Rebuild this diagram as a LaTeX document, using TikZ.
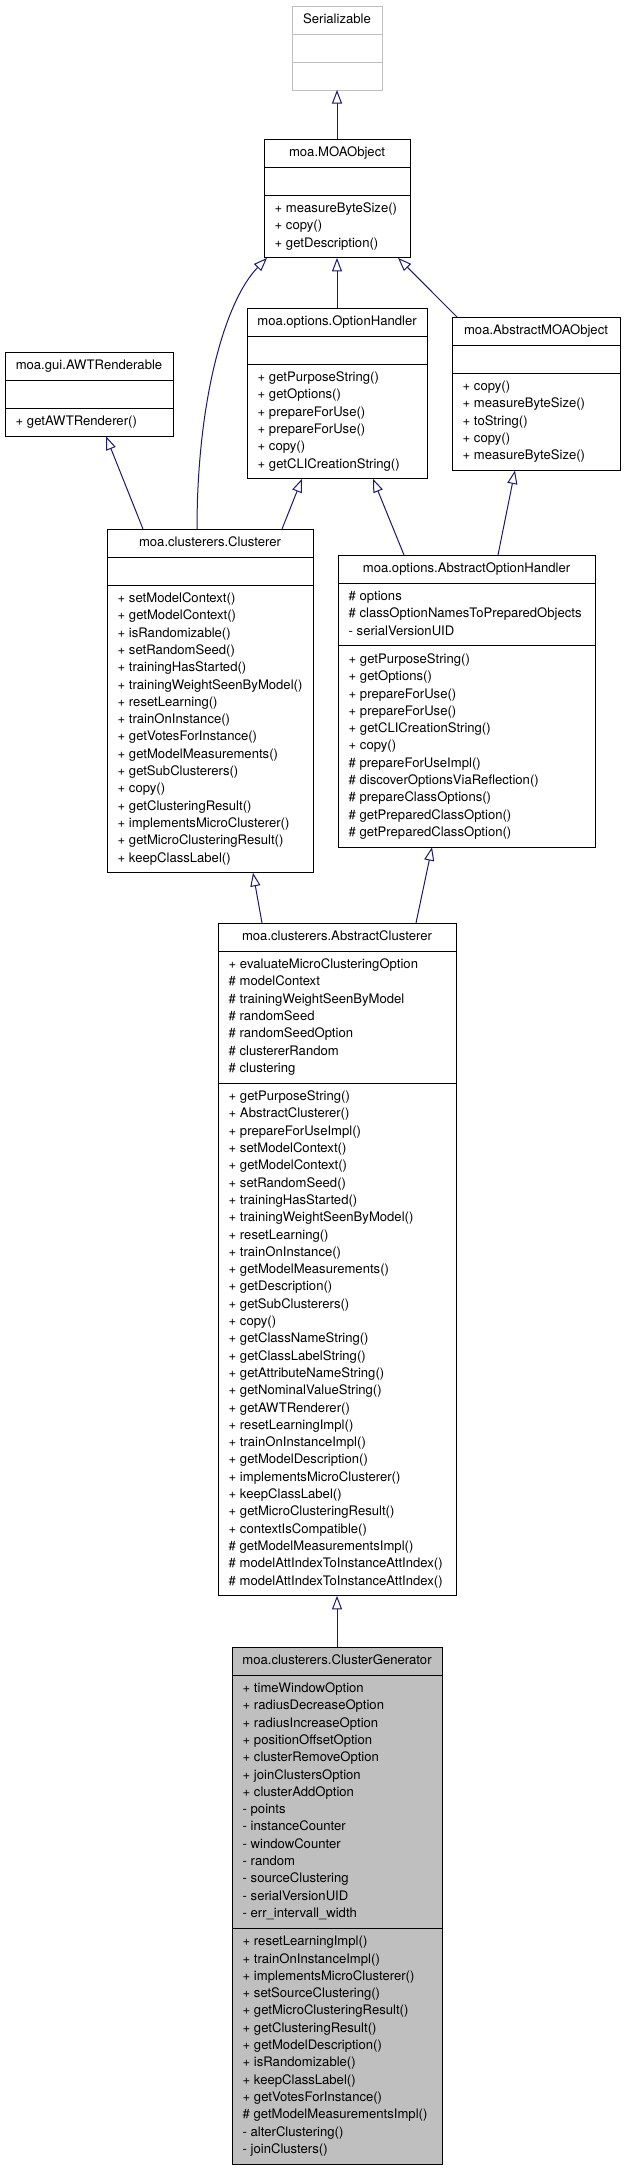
\documentclass[tikz,border=0pt]{standalone}
\usepackage{fontspec}
\setmainfont{TeX Gyre Heros}
\usetikzlibrary{arrows.meta}
\definecolor{edgeblue}{HTML}{191970}
\definecolor{greyss}{HTML}{BFBFBF}
\newcommand\fsz{\fontsize{13.1}{15}\selectfont}
\newcommand\memlist[4]{\foreach \t [count=\i] in {#4} {\node[mem] (#1-#2-\i) at ([xshift=10.5pt,yshift={-(#3+17.5+(\i-1)*17.3)*1pt}]#1.north west) {\t};}}
\newcommand\sepl[3][black]{\draw[line width=1pt, draw=#1] ([yshift=-#3pt]#2.north west) -- ([yshift=-#3pt]#2.north east);}
\begin{document}
\begin{tikzpicture}[x=1pt,y=-1pt,
  box/.style={draw=black, line width=1pt, fill=white, inner sep=0pt, outer sep=0pt, anchor=north west},
  ttl/.style={anchor=base, inner sep=0pt, font=\fsz},
  mem/.style={anchor=base west, inner sep=0pt, font=\fsz},
  inh/.style={draw=edgeblue, line width=1pt, -{Triangle[open, length=13.5pt, width=10pt, fill=white]}}]
\useasboundingbox (0,0) rectangle (624,2171);
\fill[white] (0,0) rectangle (624,2171);

% Serializable
\node[box, draw=greyss, minimum width=90pt, minimum height=84pt] (ser) at (292,6) {};
\sepl[greyss]{ser}{28}\sepl[greyss]{ser}{56}
\node[ttl] (ser-t) at ([yshift=-17.5pt]ser.north) {Serializable};

% MOAObject
\node[box, minimum width=146pt, minimum height=118.9pt] (moa) at (264,139) {};
\sepl{moa}{28}\sepl{moa}{56}
\node[ttl] (moa-t) at ([yshift=-17.5pt]moa.north) {moa.MOAObject};
\memlist{moa}{m}{56}{+ measureByteSize(), + copy(), + getDescription()}

% OptionHandler
\node[box, minimum width=180pt, minimum height=170.8pt] (oh) at (247,308) {};
\sepl{oh}{28}\sepl{oh}{56}
\node[ttl] (oh-t) at ([yshift=-17.5pt]oh.north) {moa.options.OptionHandler};
\memlist{oh}{m}{56}{+ getPurposeString(), + getOptions(), + prepareForUse(), + prepareForUse(), + copy(), + getCLICreationString()}

% AbstractMOAObject
\node[box, minimum width=168pt, minimum height=153.5pt] (amo) at (452,317) {};
\sepl{amo}{28}\sepl{amo}{56}
\node[ttl] (amo-t) at ([yshift=-17.5pt]amo.north) {moa.AbstractMOAObject};
\memlist{amo}{m}{56}{+ copy(), + measureByteSize(), + toString(), + copy(), + measureByteSize()}

% AWTRenderable
\node[box, minimum width=168pt, minimum height=84.3pt] (awt) at (5,352) {};
\sepl{awt}{28}\sepl{awt}{56}
\node[ttl] (awt-t) at ([yshift=-17.5pt]awt.north) {moa.gui.AWTRenderable};
\memlist{awt}{m}{56}{+ getAWTRenderer()}

% Clusterer
\node[box, minimum width=206pt, minimum height=343.8pt] (cl) at (107,529) {};
\sepl{cl}{28}\sepl{cl}{56}
\node[ttl] (cl-t) at ([yshift=-17.5pt]cl.north) {moa.clusterers.Clusterer};
\memlist{cl}{m}{56}{+ setModelContext(), + getModelContext(), + isRandomizable(), + setRandomSeed(), + trainingHasStarted(), + trainingWeightSeenByModel(), + resetLearning(), + trainOnInstance(), + getVotesForInstance(), + getModelMeasurements(), + getSubClusterers(), + copy(), + getClusteringResult(), + implementsMicroClusterer(), + getMicroClusteringResult(), + keepClassLabel()}

% AbstractOptionHandler
\node[box, minimum width=257pt, minimum height=292.2pt] (aoh) at (338,555) {};
\sepl{aoh}{28}\sepl{aoh}{90.9}
\node[ttl] (aoh-t) at ([yshift=-17.5pt]aoh.north) {moa.options.AbstractOptionHandler};
\memlist{aoh}{a}{28}{\# options, \# classOptionNamesToPreparedObjects, - serialVersionUID}
\memlist{aoh}{m}{90.9}{+ getPurposeString(), + getOptions(), + prepareForUse(), + prepareForUse(), + getCLICreationString(), + copy(), \# prepareForUseImpl(), \# discoverOptionsViaReflection(), \# prepareClassOptions(), \# getPreparedClassOption(), \# getPreparedClassOption()}

% AbstractClusterer
\node[box, minimum width=238pt, minimum height=672.8pt] (ac) at (218,923) {};
\sepl{ac}{28}\sepl{ac}{160.1}
\node[ttl] (ac-t) at ([yshift=-17.5pt]ac.north) {moa.clusterers.AbstractClusterer};
\memlist{ac}{a}{28}{+ evaluateMicroClusteringOption, \# modelContext, \# trainingWeightSeenByModel, \# randomSeed, \# randomSeedOption, \# clustererRandom, \# clustering}
\memlist{ac}{m}{160.1}{+ getPurposeString(), + AbstractClusterer(), + prepareForUseImpl(), + setModelContext(), + getModelContext(), + setRandomSeed(), + trainingHasStarted(), + trainingWeightSeenByModel(), + resetLearning(), + trainOnInstance(), + getModelMeasurements(), + getDescription(), + getSubClusterers(), + copy(), + getClassNameString(), + getClassLabelString(), + getAttributeNameString(), + getNominalValueString(), + getAWTRenderer(), + resetLearningImpl(), + trainOnInstanceImpl(), + getModelDescription(), + implementsMicroClusterer(), + keepClassLabel(), + getMicroClusteringResult(), + contextIsCompatible(), \# getModelMeasurementsImpl(), \# modelAttIndexToInstanceAttIndex(), \# modelAttIndexToInstanceAttIndex()}

% ClusterGenerator
\node[box, fill=greyss, minimum width=210pt, minimum height=517.1pt] (cg) at (232,1647) {};
\sepl{cg}{28}\sepl{cg}{281.2}
\node[ttl] (cg-t) at ([yshift=-17.5pt]cg.north) {moa.clusterers.ClusterGenerator};
\memlist{cg}{a}{28}{+ timeWindowOption, + radiusDecreaseOption, + radiusIncreaseOption, + positionOffsetOption, + clusterRemoveOption, + joinClustersOption, + clusterAddOption, - points, - instanceCounter, - windowCounter, - random, - sourceClustering, - serialVersionUID, - err\_intervall\_width}
\memlist{cg}{m}{281.2}{+ resetLearningImpl(), + trainOnInstanceImpl(), + implementsMicroClusterer(), + setSourceClustering(), + getMicroClusteringResult(), + getClusteringResult(), + getModelDescription(), + isRandomizable(), + keepClassLabel(), + getVotesForInstance(), \# getModelMeasurementsImpl(), - alterClustering(), - joinClusters()}

% inheritance edges
\draw[inh] (moa.north) -- (ser.south);
\draw[inh] (oh.north) -- (moa.south);
\draw[inh] ([xshift=5pt]amo.north west) -- ([xshift=-12pt]moa.south east);
\draw[inh] ([xshift=90pt]cl.north west) .. controls +(0,-129) and +(-42,43) .. ([xshift=3pt]moa.south west);
\draw[inh] ([xshift=36pt]cl.north west) -- ([xshift=101pt]awt.south west);
\draw[inh] ([xshift=175pt]cl.north west) -- ([xshift=55pt]oh.south west);
\draw[inh] ([xshift=66pt]aoh.north west) -- ([xshift=126pt]oh.south west);
\draw[inh] ([xshift=160pt]aoh.north west) -- ([xshift=63pt]amo.south west);
\draw[inh] ([xshift=44pt]ac.north west) -- ([xshift=146pt]cl.south west);
\draw[inh] ([xshift=198pt]ac.north west) -- ([xshift=94pt]aoh.south west);
\draw[inh] (cg.north) -- (ac.south);
\end{tikzpicture}
\end{document}
